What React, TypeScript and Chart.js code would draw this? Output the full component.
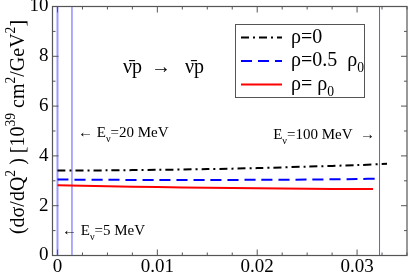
import React, { useEffect, useRef } from "react";
import { Chart, registerables } from "chart.js";

Chart.register(...registerables);

// ---- data ----
const q2Rho0 = [0, 0.005, 0.01, 0.015, 0.02, 0.025, 0.03, 0.033];
const sigmaRho0 = [3.41, 3.42, 3.44, 3.47, 3.51, 3.57, 3.63, 3.68];
const q2RhoHalf = [0, 0.005, 0.01, 0.015, 0.02, 0.025, 0.03, 0.0321];
const sigmaRhoHalf = [3.05, 3.04, 3.03, 3.03, 3.04, 3.05, 3.07, 3.09];
const q2RhoFull = [0, 0.005, 0.01, 0.015, 0.02, 0.025, 0.03, 0.0316];
const sigmaRhoFull = [2.82, 2.78, 2.75, 2.72, 2.7, 2.68, 2.67, 2.67];

const energies = ["5", "20", "100"];
const q2MaxLines = [0, 0.00145, 0.03225];

const xTicks = [0, 0.01, 0.02, 0.03];
const xTickLabels = ["0", "0.01", "0.02", "0.03"];
const yTicks = [0, 2, 4, 6, 8, 10];
const yTickLabels = ["0", "2", "4", "6", "8", "10"];

const FONT = "'Liberation Serif', 'Times New Roman', serif";

type Part = { t: string; k?: "sub" | "sup" };

function richWidth(ctx: CanvasRenderingContext2D, parts: Part[], size: number) {
  let w = 0;
  for (const p of parts) {
    const s = p.k ? size * 0.68 : size;
    ctx.font = `${s}px ${FONT}`;
    w += ctx.measureText(p.t).width;
  }
  return w;
}

function drawRich(
  ctx: CanvasRenderingContext2D,
  parts: Part[],
  x: number,
  y: number,
  size: number,
  color = "#000"
) {
  ctx.save();
  ctx.fillStyle = color;
  ctx.textAlign = "left";
  ctx.textBaseline = "alphabetic";
  let cx = x;
  for (const p of parts) {
    const s = p.k ? size * 0.68 : size;
    ctx.font = `${s}px ${FONT}`;
    const dy = p.k === "sub" ? size * 0.3 : p.k === "sup" ? -size * 0.45 : 0;
    ctx.fillText(p.t, cx, y + dy);
    cx += ctx.measureText(p.t).width;
  }
  ctx.restore();
  return cx - x;
}

const legendItems: Part[][] = [
  [{ t: "ρ=0" }],
  [{ t: "ρ=0.5  ρ" }, { t: "0", k: "sub" }],
  [{ t: "ρ= ρ" }, { t: "0", k: "sub" }],
];

const yTitle: Part[] = [
  { t: "(dσ/dQ" },
  { t: "2", k: "sup" },
  { t: " ) [10" },
  { t: "39", k: "sup" },
  { t: " cm" },
  { t: "2", k: "sup" },
  { t: "/GeV" },
  { t: "2", k: "sup" },
  { t: "]" },
];

const overlayPlugin = {
  id: "overlay",
  afterDatasetsDraw(chart: any) {
    const ctx: CanvasRenderingContext2D = chart.ctx;
    const { left, right, top, bottom } = chart.chartArea;
    const xs = chart.scales.x;
    const ys = chart.scales.y;

    ctx.save();
    // frame
    ctx.strokeStyle = "#555";
    ctx.lineWidth = 1.2;
    ctx.strokeRect(left, top, right - left, bottom - top);

    // ticks (inward on all sides)
    ctx.lineWidth = 1;
    ctx.strokeStyle = "#555";
    for (let i = 0; i <= 14; i++) {
      const v = i * 0.0025;
      const major = i % 4 === 0;
      const len = major ? 6 : 3;
      const p = xs.getPixelForValue(v);
      ctx.beginPath();
      ctx.moveTo(p, bottom);
      ctx.lineTo(p, bottom - len);
      ctx.moveTo(p, top);
      ctx.lineTo(p, top + len);
      ctx.stroke();
    }
    for (let v = 0; v <= 10; v++) {
      const major = v % 2 === 0;
      const len = major ? 6 : 3;
      const py = ys.getPixelForValue(v);
      ctx.beginPath();
      ctx.moveTo(left, py);
      ctx.lineTo(left + len, py);
      ctx.moveTo(right, py);
      ctx.lineTo(right - len, py);
      ctx.stroke();
    }
    ctx.restore();

    // reaction label
    ctx.save();
    ctx.font = `20px ${FONT}`;
    ctx.fillStyle = "#000";
    ctx.fillText("ν̄p", 123, 73);
    ctx.fillText("→", 151, 73);
    ctx.fillText("ν̄p", 185, 73);
    ctx.restore();

    // energy annotations
    const fs = 15;
    drawRich(ctx, [{ t: "← E" }, { t: "ν", k: "sub" }, { t: `=${energies[1]} MeV` }], 78, 137, fs);
    drawRich(ctx, [{ t: "← E" }, { t: "ν", k: "sub" }, { t: `=${energies[0]} MeV` }], 62, 235, fs);
    const p100: Part[] = [{ t: "E" }, { t: "ν", k: "sub" }, { t: `=${energies[2]} MeV  →` }];
    const w100 = richWidth(ctx, p100, fs);
    drawRich(ctx, p100, 375 - w100, 139, fs);

    // legend
    ctx.save();
    ctx.fillStyle = "#fff";
    ctx.fillRect(235, 24, 129, 73);
    ctx.strokeStyle = "#555";
    ctx.lineWidth = 1;
    ctx.strokeRect(235.5, 24.5, 129, 73);
    const rows = [37.5, 61, 84.5];
    for (let i = 0; i < 3; i++) {
      const ds = chart.data.datasets[i];
      ctx.strokeStyle = ds.borderColor;
      ctx.lineWidth = ds.borderWidth;
      ctx.setLineDash(ds.borderDash || []);
      ctx.beginPath();
      ctx.moveTo(241, rows[i]);
      ctx.lineTo(282, rows[i]);
      ctx.stroke();
      ctx.setLineDash([]);
      drawRich(ctx, legendItems[i], 291, rows[i] + 5, 20);
    }
    ctx.restore();

    // y axis title (rotated)
    ctx.save();
    const tsize = 20;
    const tw = richWidth(ctx, yTitle, tsize);
    ctx.translate(24, 127);
    ctx.rotate(-Math.PI / 2);
    drawRich(ctx, yTitle, -tw / 2, 0, tsize);
    ctx.restore();
  },
};

const toXY = (xs: number[], ys: number[]) => xs.map((x, i) => ({ x, y: ys[i] }));

export default function App() {
  const ref = useRef<HTMLCanvasElement>(null);

  useEffect(() => {
    document.body.style.margin = "0";
    const canvas = ref.current!;
    const lineColors = ["#9a9aff", "#5a5aff", "#5a5aff"];
    const lineWidths = [2, 1, 1];
    const chart = new Chart(canvas, {
      type: "scatter",
      data: {
        datasets: [
          {
            label: "ρ=0",
            data: toXY(q2Rho0, sigmaRho0),
            showLine: true,
            borderColor: "#000",
            borderWidth: 2,
            borderDash: [8, 4, 2, 4],
            pointRadius: 0,
            tension: 0.3,
          },
          {
            label: "ρ=0.5 ρ0",
            data: toXY(q2RhoHalf, sigmaRhoHalf),
            showLine: true,
            borderColor: "#0000ff",
            borderWidth: 2,
            borderDash: [11, 6],
            pointRadius: 0,
            tension: 0.3,
          },
          {
            label: "ρ=ρ0",
            data: toXY(q2RhoFull, sigmaRhoFull),
            showLine: true,
            borderColor: "#ff0000",
            borderWidth: 2,
            pointRadius: 0,
            tension: 0.3,
          },
          ...q2MaxLines.map((q, i) => ({
            label: `E=${energies[i]} MeV`,
            data: [
              { x: q, y: 0 },
              { x: q, y: 10 },
            ],
            showLine: true,
            borderColor: lineColors[i],
            borderWidth: lineWidths[i],
            pointRadius: 0,
          })),
        ],
      },
      options: {
        responsive: false,
        devicePixelRatio: 1,
        animation: false,
        events: [],
        layout: { padding: { top: 6.5, right: 1, left: 0, bottom: 0 } },
        plugins: {
          legend: { display: false },
          tooltip: { enabled: false },
        },
        scales: {
          x: {
            type: "linear",
            min: -0.0005,
            max: 0.035,
            grid: { display: false, drawTicks: false },
            border: { display: false },
            afterBuildTicks: (s: any) => {
              s.ticks = xTicks.map((v) => ({ value: v }));
            },
            afterFit: (s: any) => {
              s.height = 18.5;
              s.paddingLeft = 0;
              s.paddingRight = 0;
            },
            ticks: {
              autoSkip: false,
              maxRotation: 0,
              padding: 0,
              color: "#000",
              font: { family: FONT, size: 19 },
              callback: (_v: any, i: number) => xTickLabels[i],
            },
          },
          y: {
            type: "linear",
            min: 0,
            max: 10,
            grid: { display: false, drawTicks: false },
            border: { display: false },
            afterBuildTicks: (s: any) => {
              s.ticks = yTicks.map((v) => ({ value: v }));
            },
            afterFit: (s: any) => {
              s.width = 52.5;
              s.paddingTop = 0;
              s.paddingBottom = 0;
            },
            ticks: {
              autoSkip: false,
              padding: 4,
              color: "#000",
              font: { family: FONT, size: 19 },
              callback: (_v: any, i: number) => yTickLabels[i],
            },
          },
        },
      },
      plugins: [overlayPlugin],
    });
    return () => chart.destroy();
  }, []);

  return (
    <div style={{ width: 408, height: 274 }}>
      <canvas ref={ref} width={408} height={274} />
    </div>
  );
}
